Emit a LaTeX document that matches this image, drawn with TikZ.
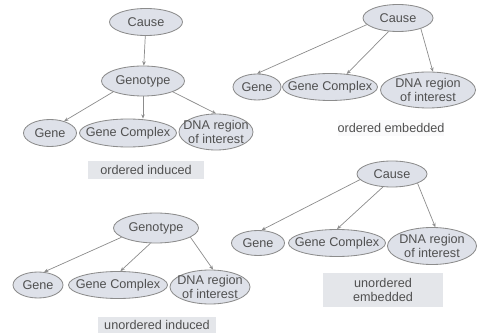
\documentclass[tikz,border=0pt]{standalone}
\usepackage{fontspec}
\setmainfont{Liberation Sans}
\usepackage{xcolor}
\usetikzlibrary{shapes.geometric,arrows.meta}

\definecolor{ovalfill}{HTML}{DEE1E9}
\definecolor{ovalline}{HTML}{8C8C8C}
\definecolor{txt}{HTML}{505050}
\definecolor{tagfill}{HTML}{E4E6EA}
\newcommand{\px}{0.7113pt}

\tikzset{
	oval/.style={ellipse, draw=ovalline, fill=ovalfill, line width=0.6pt, inner sep=-30pt, text=txt, align=center, font=\fontsize{9}{9.5}\selectfont},
	tag/.style={fill=tagfill, inner sep=0pt, text=txt, align=center, font=\fontsize{9}{10}\selectfont},
	link/.style={draw=ovalline, line width=0.5pt, -{Stealth[length=3pt,width=2.5pt]}}
}

\begin{document}
\begin{tikzpicture}[x=0.025cm, y=-0.025cm]
	\useasboundingbox (0,0) rectangle (477,333);

	% ordered induced
	\node[oval, minimum width=73*\px, minimum height=27*\px] (cA) at (146,22) {Cause};
	\node[oval, minimum width=83*\px, minimum height=30*\px] (tA) at (143,81) {Genotype};
	\node[oval, minimum width=53*\px, minimum height=27*\px] (gA) at (50,133) {Gene};
	\node[oval, minimum width=97*\px, minimum height=28*\px] (xA) at (128,133) {Gene Complex};
	\node[oval, minimum width=74*\px, minimum height=36*\px] (dA) at (216,132) {DNA region\\of interest};
	\node[tag, minimum width=115*\px, minimum height=18*\px] (lA) at (146,170) {ordered induced};
	\draw[link] (cA) -- (tA);
	\draw[link] (tA.200) -- (gA.40);
	\draw[link] (tA.south) -- (xA.north -| tA.south);
	\draw[link] (tA.-20) -- (dA.north);

	% ordered embedded
	\node[oval, minimum width=70*\px, minimum height=27*\px] (cB) at (398,18) {Cause};
	\node[oval, minimum width=48*\px, minimum height=26*\px] (gB) at (257,87) {Gene};
	\node[oval, minimum width=95*\px, minimum height=27*\px] (xB) at (330,87) {Gene Complex};
	\node[oval, minimum width=95*\px, minimum height=36*\px] (dB) at (428,90) {DNA region\\of interest};
	\node[tag, fill=white!80!tagfill, minimum width=105*\px, minimum height=16*\px] (lB) at (391,128) {ordered embedded};
	\draw[link] (cB.192) -- (gB.north);
	\draw[link] (cB.235) -- (xB.38);
	\draw[link] (cB.-25) -- (dB.75);

	% unordered induced
	\node[oval, minimum width=85*\px, minimum height=30*\px] (tC) at (156,228) {Genotype};
	\node[oval, minimum width=50*\px, minimum height=26*\px] (gC) at (38,285) {Gene};
	\node[oval, minimum width=99*\px, minimum height=27*\px] (xC) at (118,285) {Gene Complex};
	\node[oval, minimum width=80*\px, minimum height=34*\px] (dC) at (210,287) {DNA region\\of interest};
	\node[tag, minimum width=118*\px, minimum height=17*\px] (lC) at (157,325) {unordered induced};
	\draw[link] (tC.195) -- (gC.65);
	\draw[link] (tC.250) -- (xC.80);
	\draw[link] (tC.-15) -- (dC.80);

	% unordered embedded
	\node[oval, minimum width=70*\px, minimum height=26*\px] (cD) at (392,174) {Cause};
	\node[oval, minimum width=53*\px, minimum height=25*\px] (gD) at (258,243) {Gene};
	\node[oval, minimum width=97*\px, minimum height=27*\px] (xD) at (337,243) {Gene Complex};
	\node[oval, minimum width=89*\px, minimum height=37*\px] (dD) at (432,246) {DNA region\\of interest};
	\node[tag, minimum width=120*\px, minimum height=34*\px] (lD) at (383,290) {unordered\\embedded};
	\draw[link] (cD.190) -- (gD.75);
	\draw[link] (cD.235) -- (xD.north);
	\draw[link] (cD.-20) -- (dD.80);
\end{tikzpicture}
\end{document}
